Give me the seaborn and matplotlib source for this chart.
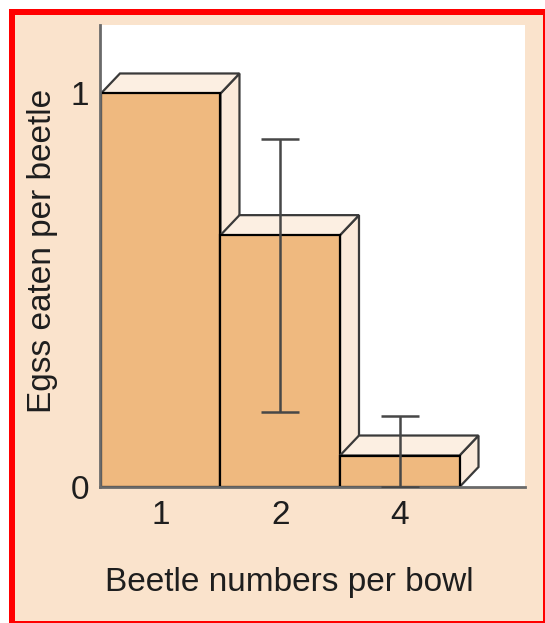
import matplotlib
matplotlib.use("Agg")
import matplotlib.pyplot as plt
from matplotlib.patches import Polygon, Rectangle
import seaborn as sns

# Data
beetles_per_bowl = ["1", "2", "4"]
eggs_eaten = [1.0, 0.64, 0.08]
err_low = [None, 0.19, 0.0]
err_high = [None, 0.885, 0.18]

FRONT = "#EFB97F"
TOP = "#FCEFE2"
SIDE = "#FBEADA"
PANEL = "#FAE3CC"
EDGE = "#3a3a3a"
TEXT = "#1e1e1e"

sns.set_theme(style="white")
plt.rcParams["font.family"] = ["Liberation Sans", "DejaVu Sans"]

W, H = 545, 623
fig = plt.figure(figsize=(W / 100, H / 100), dpi=100, facecolor="white")

# Framed peach panel with a red border
fig.add_artist(Rectangle((9 / W, 0), 1 - 9 / W, (H - 9) / H,
                         transform=fig.transFigure, facecolor="#FF0000",
                         edgecolor="none", zorder=-10))
fig.add_artist(Rectangle((15 / W, 2 / H), (543 - 15) / W, (621 - 15) / H,
                         transform=fig.transFigure, facecolor=PANEL,
                         edgecolor="none", zorder=-9))

ax = fig.add_axes([100 / W, (H - 487) / H, 425 / W, 462 / H])
ax.set_facecolor("white")

sns.barplot(x=beetles_per_bowl, y=eggs_eaten, width=1.0, color=FRONT,
            saturation=1, edgecolor="black", linewidth=1.6, ax=ax)

ax.set_xlim(-0.508, 3.048)
ax.set_ylim(0, 1.174)

# Depth of the 3D faces, in pixels converted to data units
dx_px, dy_px = 19, 20
x_unit = ax.bbox.width / (ax.get_xlim()[1] - ax.get_xlim()[0])
y_unit = ax.bbox.height / (ax.get_ylim()[1] - ax.get_ylim()[0])
ddx, ddy = dx_px / x_unit, dy_px / y_unit

for i, bar in enumerate(ax.patches):
    x0 = bar.get_x()
    x1 = x0 + bar.get_width()
    h = bar.get_height()
    z = 3 + 3 * i
    bar.set_zorder(z)
    top = Polygon([(x0, h), (x1, h), (x1 + ddx, h + ddy), (x0 + ddx, h + ddy)],
                  closed=True, facecolor=TOP, edgecolor=EDGE, linewidth=1.6,
                  joinstyle="miter", zorder=z + 1)
    side = Polygon([(x1, 0), (x1, h), (x1 + ddx, h + ddy), (x1 + ddx, ddy)],
                   closed=True, facecolor=SIDE, edgecolor=EDGE, linewidth=1.6,
                   joinstyle="miter", zorder=z + 1)
    ax.add_patch(side)
    ax.add_patch(top)
    # redraw the front face outline over its neighbours
    bar.set_zorder(z + 2)

for i, (lo, hi) in enumerate(zip(err_low, err_high)):
    if lo is None:
        continue
    mid = eggs_eaten[i]
    ax.errorbar(i, mid, yerr=[[mid - lo], [hi - mid]], fmt="none",
                ecolor="#474747", elinewidth=1.8, capsize=13.5, capthick=1.8,
                zorder=30)

for side_name in ["top", "right"]:
    ax.spines[side_name].set_visible(False)
for side_name in ["left", "bottom"]:
    ax.spines[side_name].set_color("#6a6a6a")
    ax.spines[side_name].set_linewidth(2.0)
    ax.spines[side_name].set_zorder(25)

ax.set_yticks([0, 1])
ax.set_yticklabels(["0", "1"])
ax.tick_params(axis="both", length=0, labelsize=24, colors=TEXT)
ax.tick_params(axis="y", pad=8)
ax.tick_params(axis="x", pad=9)

ax.set_xlabel("Beetle numbers per bowl", fontsize=24, color=TEXT)
ax.set_ylabel("Egss eaten per beetle", fontsize=24, color=TEXT)
ax.xaxis.set_label_coords(0.445, -0.206)
ax.xaxis.label.set_va("center")
ax.yaxis.set_label_coords(-0.135, 0.51)
ax.yaxis.label.set_va("center")

fig.savefig("out.png", dpi=100, facecolor="white")
